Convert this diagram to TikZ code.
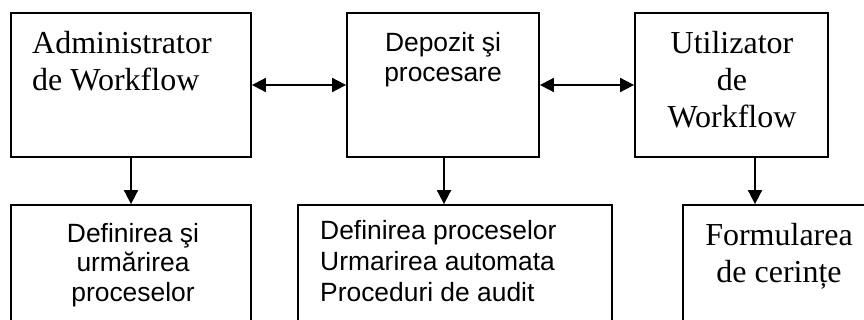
\documentclass[tikz,border=0pt]{standalone}
\usepackage{fontspec}
\setmainfont{Liberation Serif}
\newfontfamily\arialfont{Liberation Sans}
\usetikzlibrary{arrows.meta}
\newcommand\firstline[1]{\rule{0pt}{#1}}
\tikzset{
  box/.style={draw, line width=1.8pt, inner sep=0pt, minimum width=#1},
  tall/.style={minimum height=144},
  low/.style={minimum height=125},
  serifbig/.style={inner sep=0pt, font=\fontsize{32}{37}\selectfont},
  sansmid/.style={inner sep=0pt, font=\arialfont\fontsize{26.4}{30}\selectfont},
  link/.style={line width=1.8pt},
  >={Triangle[length=14pt, width=14pt]}
}
\begin{document}
\begin{tikzpicture}[x=1pt, y=-1pt]
  \useasboundingbox (0,0) rectangle (864,320);
  \clip (0,0) rectangle (864,320);

  % upper row
  \node[box=240, tall] (adm) at (131,85) {};
  \node[box=192, tall] (dep) at (443,85) {};
  \node[box=193, tall] (uti) at (731.5,85) {};

  % lower row, running past the page edge
  \node[box=240, low] (def) at (131,267.5) {};
  \node[box=314, low] (aut) at (455,267.5) {};
  \node[box=197, low] (cer) at (781.5,267.5) {};

  % labels
  \node[serifbig, align=left, anchor=north west] (admtext) at (32,25)
    {\firstline{28pt}Administrator\\de Workflow};
  \node[sansmid, align=center, anchor=north] (deptext) at (443,25)
    {\firstline{26pt}Depozit şi\\procesare};
  \node[serifbig, align=center, anchor=north] (utitext) at (732,25)
    {\firstline{28pt}Utilizator\\de\\Workflow};
  \node[sansmid, align=center, anchor=north,
        font=\arialfont\fontsize{26.4}{29.5}\selectfont] (deftext) at (133,216)
    {\firstline{26pt}Definirea şi\\urmărirea\\proceselor};
  \node[sansmid, align=left, anchor=north west,
        font=\arialfont\fontsize{26.4}{31}\selectfont] (auttext) at (320,213)
    {\firstline{26pt}Definirea proceselor\\Urmarirea automata\\Proceduri de audit};
  \node[serifbig, align=center, anchor=north] (certext) at (779,217)
    {\firstline{28pt}Formularea\\de cerințe};

  % connectors
  \draw[link, <->] (adm.east) -- (dep.west);
  \draw[link, <->] (dep.east) -- (uti.west);
  \draw[link, ->] (adm.south) -- (def.north);
  \draw[link, ->] ([xshift=1]dep.south) -- ([xshift=1]dep.south |- aut.north);
  \draw[link, ->] ([xshift=23.5]uti.south) -- ([xshift=23.5]uti.south |- cer.north);
\end{tikzpicture}
\end{document}
